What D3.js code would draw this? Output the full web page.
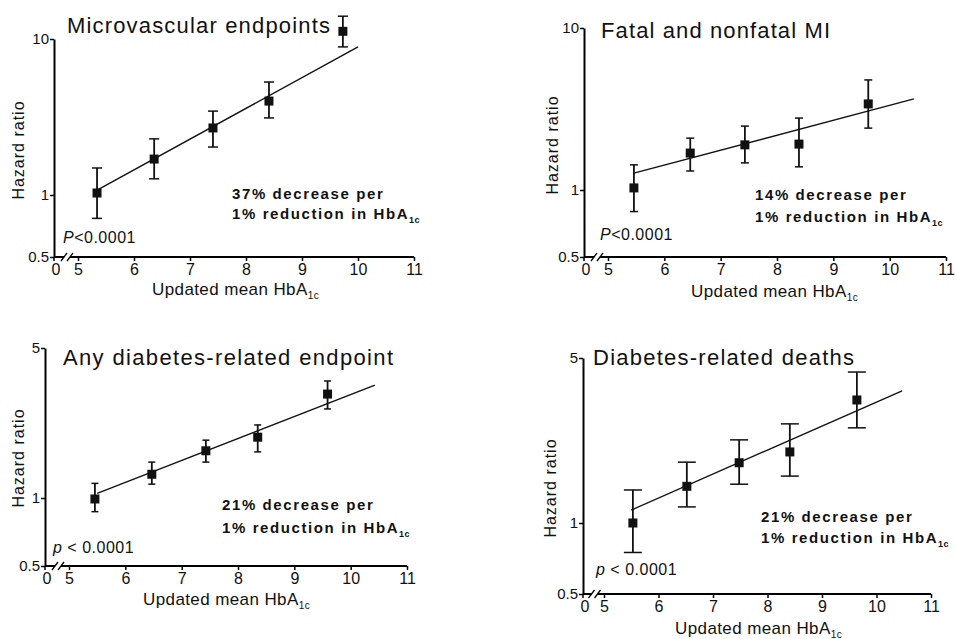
<!DOCTYPE html>
<html>
<head>
<meta charset="utf-8">
<script src="https://cdn.jsdelivr.net/npm/d3@7"></script>
<style>
  body { margin: 0; background: #fff; }
  svg { display: block; font-family: "Liberation Sans", Arial, sans-serif; }
</style>
</head>
<body>
<div id="chart"></div>
<script>
// HbA1c hazard ratio panels (4 small multiples)

// --- data ---
const hbaTicks = [5, 6, 7, 8, 9, 10, 11];
const titles = ["Microvascular endpoints", "Fatal and nonfatal MI", "Any diabetes-related endpoint", "Diabetes-related deaths"];
const decreasePct = ["37%", "14%", "21%", "21%"];
const pLabels = [["P", "<0.0001"], ["P", "<0.0001"], ["p", " < 0.0001"], ["p", " < 0.0001"]];
const yTicksTop = [0.5, 1, 10];
const yTicksBottom = [0.5, 1, 5];

// microvascular
const mvX = [5.34, 6.36, 7.41, 8.41, 9.73];
const mvHR = [1.03, 1.70, 2.69, 4.0, 11.2];
const mvLo = [0.77, 1.27, 2.03, 3.12, 8.9];
const mvHi = [1.49, 2.29, 3.45, 5.3, 14.0];
const mvFitX = [5.35, 10.0];
const mvFitHR = [1.08, 8.9];

// MI
const miX = [5.46, 6.46, 7.43, 8.39, 9.62];
const miHR = [1.03, 1.69, 1.90, 1.92, 3.40];
const miLo = [0.80, 1.31, 1.47, 1.39, 2.41];
const miHi = [1.43, 2.09, 2.48, 2.78, 4.78];
const miFitX = [5.46, 10.43];
const miFitHR = [1.27, 3.65];

// any diabetes-related endpoint
const anyX = [5.46, 6.47, 7.43, 8.35, 9.59];
const anyHR = [0.99, 1.29, 1.66, 1.92, 3.05];
const anyLo = [0.87, 1.16, 1.47, 1.64, 2.60];
const anyHi = [1.17, 1.47, 1.86, 2.19, 3.51];
const anyFitX = [5.5, 10.43];
const anyFitHR = [1.05, 3.36];

// diabetes-related deaths
const dthX = [5.53, 6.52, 7.48, 8.41, 9.64];
const dthHR = [1.0, 1.43, 1.80, 2.0, 3.32];
const dthLo = [0.75, 1.17, 1.46, 1.58, 2.53];
const dthHi = [1.38, 1.81, 2.25, 2.63, 4.36];
const dthFitX = [5.5, 10.47];
const dthFitHR = [1.135, 3.63];

const panels = [
  { x: mvX, hr: mvHR, lo: mvLo, hi: mvHi, fitX: mvFitX, fitHR: mvFitHR, yTicks: yTicksTop },
  { x: miX, hr: miHR, lo: miLo, hi: miHi, fitX: miFitX, fitHR: miFitHR, yTicks: yTicksTop },
  { x: anyX, hr: anyHR, lo: anyLo, hi: anyHi, fitX: anyFitX, fitHR: anyFitHR, yTicks: yTicksBottom },
  { x: dthX, hr: dthHR, lo: dthLo, hi: dthHi, fitX: dthFitX, fitHR: dthFitHR, yTicks: yTicksBottom }
];

// --- layout (pixel positions of each panel) ---
const layout = [
  { ax: 54, xr: [78, 414], yr: [257, 195, 39], cap: 10, title: [67, 33, 263], note: [232, 199, 219], pval: [63, 243], ylab: [18, 150], xlab: [152, 295] },
  { ax: 584, xr: [608, 946], yr: [257, 190, 28], cap: 8, title: [601, 38, 229], note: [755, 200, 222], pval: [600, 240], ylab: [552, 145], xlab: [691, 297] },
  { ax: 45, xr: [69, 407], yr: [566, 498, 348], cap: 7, title: [63, 365, 330], note: [222, 510, 533], pval: [53, 553], ylab: [18, 458], xlab: [143, 605] },
  { ax: 583, xr: [604, 931], yr: [594, 523, 358], cap: 18, title: [593, 365, 261], note: [761, 522, 543], pval: [596, 575], ylab: [550, 488], xlab: [675, 634] }
];

const width = 956, height = 639;
const svg = d3.select("#chart").append("svg")
  .attr("width", width)
  .attr("height", height);

function drawPanel(d, L, i) {
  const x = d3.scaleLinear().domain([5, 11]).range(L.xr);
  // piecewise log scale: the figure's 0.5-1 segment is stretched
  const y = d3.scaleLog().domain(d.yTicks).range(L.yr);
  const y0 = y(0.5);
  const g = svg.append("g").attr("class", "panel");

  // y axis
  const yAxis = d3.axisLeft(y)
    .tickValues(d.yTicks)
    .tickFormat(d3.format(""))
    .tickSize(4)
    .tickSizeOuter(0);
  const ya = g.append("g").attr("transform", `translate(${L.ax},0)`).call(yAxis);
  ya.select(".domain").attr("stroke-width", 2);
  ya.selectAll(".tick line").attr("stroke-width", 1.5);
  ya.selectAll(".tick text").attr("x", -5).style("font-size", "15px").attr("fill", "#111");

  // x axis (ticks only, line drawn by hand for the break)
  const xAxis = d3.axisBottom(x).tickValues(hbaTicks).tickFormat(d3.format("d")).tickSize(4).tickSizeOuter(0);
  const xa = g.append("g").attr("transform", `translate(0,${y0})`).call(xAxis);
  xa.select(".domain").remove();
  xa.selectAll(".tick line").attr("stroke-width", 1.5);
  xa.selectAll(".tick text").attr("y", 7).style("font-size", "16px").attr("fill", "#111");

  const bx = (L.ax + x(5)) / 2 + 1;
  g.append("line").attr("x1", L.ax).attr("x2", bx - 3).attr("y1", y0).attr("y2", y0)
    .attr("stroke", "#000").attr("stroke-width", 2);
  g.append("line").attr("x1", bx + 3).attr("x2", x(11)).attr("y1", y0).attr("y2", y0)
    .attr("stroke", "#000").attr("stroke-width", 2);
  [-3, 3].forEach((o) => {
    g.append("line")
      .attr("x1", bx + o - 3).attr("y1", y0 + 4)
      .attr("x2", bx + o + 3).attr("y2", y0 - 4)
      .attr("stroke", "#000").attr("stroke-width", 1.3);
  });
  g.append("line").attr("x1", L.ax).attr("x2", L.ax).attr("y1", y0).attr("y2", y0 + 4)
    .attr("stroke", "#000").attr("stroke-width", 1.5);
  g.append("text")
    .attr("x", L.ax + 2).attr("y", y0 + 7).attr("dy", "0.71em")
    .attr("text-anchor", "middle")
    .style("font-size", "16px").attr("fill", "#111")
    .text("0");

  // axis titles
  g.append("text")
    .attr("transform", `translate(${L.ylab[0]},${L.ylab[1]}) rotate(-90)`)
    .attr("text-anchor", "middle")
    .attr("dy", "0.35em")
    .style("font-size", "16px")
    .style("letter-spacing", "1px")
    .attr("fill", "#111")
    .text("Hazard ratio");

  const xl = g.append("text")
    .attr("x", L.xlab[0]).attr("y", L.xlab[1])
    .style("font-size", "17px")
    .style("letter-spacing", "0.4px")
    .attr("fill", "#111")
    .text("Updated mean HbA");
  xl.append("tspan").attr("dy", 4).style("font-size", "10px").text("1c");

  // panel title
  g.append("text")
    .attr("x", L.title[0]).attr("y", L.title[1])
    .attr("textLength", L.title[2])
    .attr("lengthAdjust", "spacing")
    .style("font-size", "22px")
    .attr("fill", "#111")
    .text(titles[i]);

  // fit line
  const line = d3.line().x((v) => x(v[0])).y((v) => y(v[1]));
  g.append("path")
    .attr("d", line(d.fitX.map((v, k) => [v, d.fitHR[k]])))
    .attr("fill", "none")
    .attr("stroke", "#111")
    .attr("stroke-width", 1.4);

  // error bars + squares
  const pts = d.x.map((v, k) => ({ x: v, hr: d.hr[k], lo: d.lo[k], hi: d.hi[k] }));
  const eb = g.selectAll(".eb").data(pts).enter().append("g").attr("class", "eb");
  eb.append("line")
    .attr("x1", (p) => x(p.x)).attr("x2", (p) => x(p.x))
    .attr("y1", (p) => y(p.lo)).attr("y2", (p) => y(p.hi))
    .attr("stroke", "#111").attr("stroke-width", 1.8);
  eb.append("line")
    .attr("x1", (p) => x(p.x) - L.cap / 2).attr("x2", (p) => x(p.x) + L.cap / 2)
    .attr("y1", (p) => y(p.lo)).attr("y2", (p) => y(p.lo))
    .attr("stroke", "#111").attr("stroke-width", 1.5);
  eb.append("line")
    .attr("x1", (p) => x(p.x) - L.cap / 2).attr("x2", (p) => x(p.x) + L.cap / 2)
    .attr("y1", (p) => y(p.hi)).attr("y2", (p) => y(p.hi))
    .attr("stroke", "#111").attr("stroke-width", 1.5);
  eb.append("rect")
    .attr("x", (p) => x(p.x) - 4.5).attr("y", (p) => y(p.hr) - 4.5)
    .attr("width", 9).attr("height", 9)
    .attr("fill", "#111");

  // annotation
  const note = g.append("g").style("font-size", "15px").style("font-weight", "bold")
    .style("letter-spacing", "1.6px").attr("fill", "#111");
  note.append("text").attr("x", L.note[0]).attr("y", L.note[1])
    .text(decreasePct[i] + " decrease per");
  const n2 = note.append("text").attr("x", L.note[0]).attr("y", L.note[2])
    .text("1% reduction in HbA");
  n2.append("tspan").attr("dy", 4).style("font-size", "9px").style("letter-spacing", "0.5px").text("1c");

  // p value
  const pt = g.append("text").attr("x", L.pval[0]).attr("y", L.pval[1])
    .style("font-size", "16px").style("letter-spacing", "0.5px").attr("fill", "#111");
  pt.append("tspan").style("font-style", "italic").text(pLabels[i][0]);
  pt.append("tspan").text(pLabels[i][1]);
}

panels.forEach((d, i) => drawPanel(d, layout[i], i));
</script>
</body>
</html>
